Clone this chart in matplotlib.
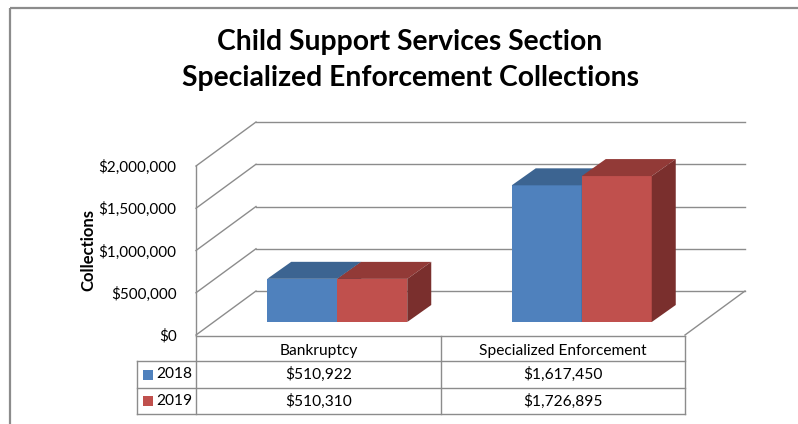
import matplotlib
matplotlib.use("Agg")
import matplotlib.pyplot as plt
from matplotlib.patches import Polygon, Rectangle
from matplotlib.lines import Line2D

plt.rcParams["font.family"] = ["Lato", "DejaVu Sans"]

# Données
categories = ["Bankruptcy", "Specialized Enforcement"]
years = ["2018", "2019"]
vals_2018 = [510922, 1617450]
vals_2019 = [510310, 1726895]
ticks = [0, 500000, 1000000, 1500000, 2000000]

front_cols = ["#4F81BD", "#C0504D"]
top_cols = ["#3C6491", "#923A37"]
side_cols = ["#2F4F75", "#7A2F2D"]
grid_col = "#8C8C8C"

W, H = 798, 424
fig = plt.figure(figsize=(W / 100, H / 100), dpi=100)

# zone de tracé (mur avant)
x_left, x_right, y_zero, y_top = 196, 685, 335, 166
ax = fig.add_axes([x_left / W, 1 - y_zero / H, (x_right - x_left) / W, (y_zero - y_top) / H])
ax.set_xlim(-0.5, 1.5)
ax.set_ylim(0, 2000000)
for s in ax.spines.values():
    s.set_visible(False)
ax.set_xticks([])
ax.set_yticks(ticks)
ax.set_yticklabels([f"${t:,}" for t in ticks], fontsize=11)
ax.tick_params(axis="y", length=0, pad=14, colors="black")
ax.patch.set_alpha(0)

# pixels -> unités de données
ppx = (x_right - x_left) / 2.0
ppy = (y_zero - y_top) / 2000000.0
def dxu(px):
    return px / ppx
def dyu(px):
    return px / ppy

# mur du fond + côté gauche
bdx, bdy = dxu(60), dyu(44)
for t in ticks:
    ax.add_line(Line2D([-0.5 + bdx, 1.5 + bdx], [t + bdy, t + bdy], color=grid_col, lw=1, clip_on=False))
    ax.add_line(Line2D([-0.5, -0.5 + bdx], [t, t + bdy], color=grid_col, lw=1, clip_on=False))
ax.add_line(Line2D([-0.5, -0.5], [0, 2000000], color=grid_col, lw=1, clip_on=False))
ax.add_line(Line2D([1.5, 1.5 + bdx], [0, bdy], color=grid_col, lw=1, clip_on=False))

# barres 3D
w = 70 / ppx
fdx, fdy = dxu(19), dyu(13)
ddx, ddy = dxu(24), dyu(17)
for i in range(len(categories)):
    for j, vals in enumerate([vals_2018, vals_2019]):
        xc = i + fdx + (j - 0.5) * w
        v = vals[i]
        ax.bar(xc, v, width=w, bottom=fdy, color=front_cols[j], edgecolor="none", clip_on=False, zorder=3)
        x0, x1 = xc - w / 2, xc + w / 2
        top = fdy + v
        ax.add_patch(Polygon([(x0, top), (x1, top), (x1 + ddx, top + ddy), (x0 + ddx, top + ddy)],
                             closed=True, color=top_cols[j], lw=0, clip_on=False, zorder=3))
        ax.add_patch(Polygon([(x1, fdy), (x1, top), (x1 + ddx, top + ddy), (x1 + ddx, fdy + ddy)],
                             closed=True, color=side_cols[j], lw=0, clip_on=False, zorder=3))

# calque en pixels pour le tableau, titre, cadre
ov = fig.add_axes([0, 0, 1, 1])
ov.set_xlim(0, W)
ov.set_ylim(H, 0)
ov.axis("off")
ov.patch.set_alpha(0)

ov.add_patch(Rectangle((9.5, 8), W, H, fill=False, edgecolor="#8C8C8C", lw=1.6))

tcol = "#8C8C8C"
t_left, c1, c2, c3 = 137, 196, 441, 685
r0, r1, r2, r3 = 336, 361, 388, 414
ov.add_line(Line2D([c1, c3], [r0, r0], color=tcol, lw=1))
ov.add_line(Line2D([t_left, c3], [r1, r1], color=tcol, lw=1))
ov.add_line(Line2D([t_left, c3], [r2, r2], color=tcol, lw=1))
ov.add_line(Line2D([t_left, c3], [r3, r3], color=tcol, lw=1))
ov.add_line(Line2D([t_left, t_left], [r1, r3], color=tcol, lw=1))
for cx in (c1, c2, c3):
    ov.add_line(Line2D([cx, cx], [r0, r3], color=tcol, lw=1))

fs = 11.2
for k, cat in enumerate(categories):
    cx = (c1 + c2) / 2 if k == 0 else (c2 + c3) / 2
    ov.text(cx, (r0 + r1) / 2 + 2, cat, ha="center", va="center", fontsize=fs)
    ov.text(cx, (r1 + r2) / 2, f"${vals_2018[k]:,}", ha="center", va="center", fontsize=fs)
    ov.text(cx, (r2 + r3) / 2, f"${vals_2019[k]:,}", ha="center", va="center", fontsize=fs)
for j, (yr, ry) in enumerate(zip(years, [(r1 + r2) / 2, (r2 + r3) / 2])):
    ov.add_patch(Rectangle((143, ry - 5), 10, 10, color=front_cols[j], lw=0))
    ov.text(156, ry, yr, ha="left", va="center", fontsize=fs)

fig.text(88 / W, 1 - 250 / H, "Collections", rotation=90, ha="center", va="center",
         fontsize=12, fontweight="bold")
fig.text(410 / W, 1 - 42 / H, "Child Support Services Section", ha="center", va="center",
         fontsize=20.3, fontweight="bold")
fig.text(410 / W, 1 - 78 / H, "Specialized Enforcement Collections", ha="center", va="center",
         fontsize=20.3, fontweight="bold")

fig.savefig("out.png", dpi=100)
